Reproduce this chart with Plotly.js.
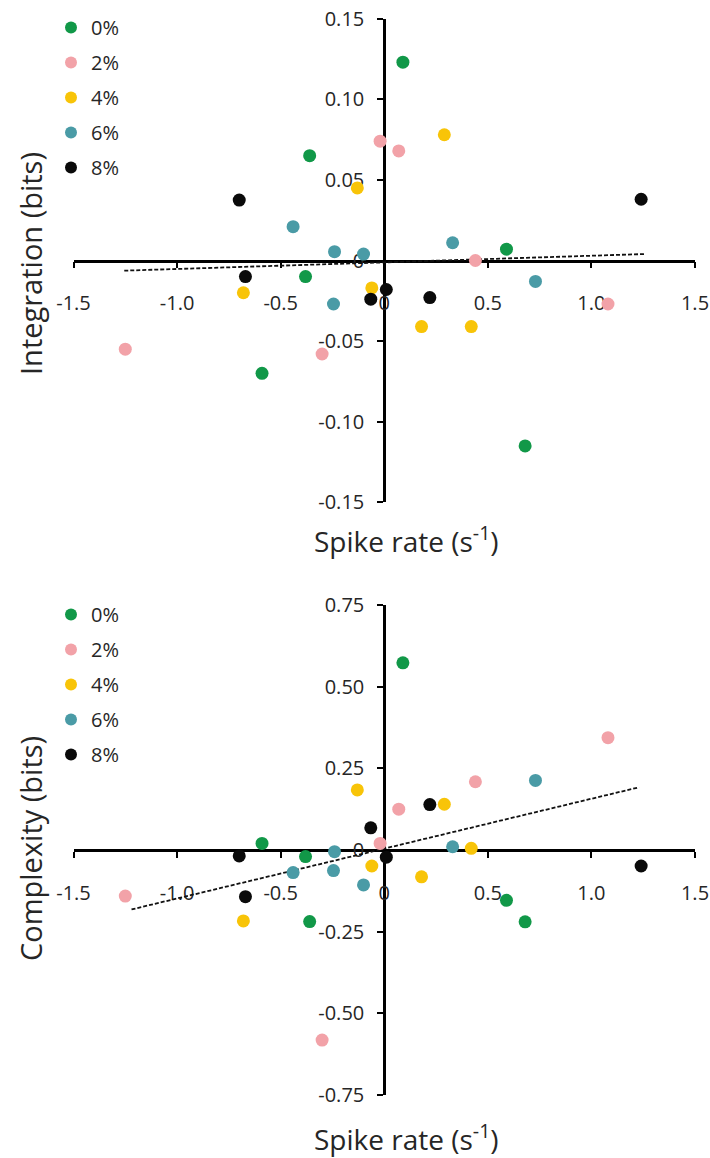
<!DOCTYPE html>
<html>
<head>
<meta charset="utf-8">
<script src="https://cdn.plot.ly/plotly-3.0.1.min.js"></script>
<style>html,body{margin:0;padding:0;background:#fff;}#chart{width:710px;height:1158px;}</style>
</head>
<body>
<div id="chart"></div>
<script>
// ---- data ----
const seriesLabels = ['0%', '2%', '4%', '6%', '8%'];

// spike rate (x) per series, shared by both panels
const rate0 = [0.09, -0.36, 0.59, -0.38, -0.59, 0.68];
const rate2 = [-0.02, 0.07, 0.44, 1.08, -1.25, -0.30];
const rate4 = [0.29, -0.13, -0.68, -0.06, 0.18, 0.42];
const rate6 = [-0.44, -0.24, -0.10, 0.33, 0.73, -0.245];
const rate8 = [-0.70, -0.67, -0.065, 0.01, 0.22, 1.24];

// integration (bits), top panel
const integ0 = [0.123, 0.065, 0.007, -0.010, -0.070, -0.115];
const integ2 = [0.074, 0.068, 0.000, -0.027, -0.055, -0.058];
const integ4 = [0.078, 0.045, -0.020, -0.017, -0.041, -0.041];
const integ6 = [0.021, 0.0055, 0.004, 0.011, -0.013, -0.027];
const integ8 = [0.0375, -0.010, -0.024, -0.018, -0.023, 0.038];

// complexity (bits), bottom panel
const compl0 = [0.573, -0.219, -0.154, -0.020, 0.020, -0.220];
const compl2 = [0.020, 0.125, 0.209, 0.344, -0.141, -0.582];
const compl4 = [0.140, 0.184, -0.217, -0.049, -0.082, 0.005];
const compl6 = [-0.069, -0.005, -0.107, 0.010, 0.213, -0.063];
const compl8 = [-0.018, -0.143, 0.068, -0.022, 0.139, -0.049];

// dashed trend lines (end points)
const integTrendX = [-1.255, 1.255];
const integTrendY = [-0.0063, 0.004];
const complTrendX = [-1.22, 1.23];
const complTrendY = [-0.182, 0.192];

// tick labels
const xTickVals = [-1.5, -1.0, -0.5, 0, 0.5, 1.0, 1.5];
const xTickText = ['-1.5', '-1.0', '-0.5', '0', '0.5', '1.0', '1.5'];
const integTickVals = [-0.15, -0.10, -0.05, 0, 0.05, 0.10, 0.15];
const integTickText = ['-0.15', '-0.10', '-0.05', '0', '0.05', '0.10', '0.15'];
const complTickVals = [-0.75, -0.50, -0.25, 0, 0.25, 0.50, 0.75];
const complTickText = ['-0.75', '-0.50', '-0.25', '0', '0.25', '0.50', '0.75'];

// ---- styles ----
const colors = ['#119848', '#f2a2a8', '#f8c408', '#4a9ba6', '#0a0a0a'];
const FONT = 'Open Sans, sans-serif';
const TXT = '#262626';

const rates = [rate0, rate2, rate4, rate6, rate8];
const integs = [integ0, integ2, integ4, integ6, integ8];
const compls = [compl0, compl2, compl4, compl6, compl8];

const traces = [];
traces.push({
  type: 'scatter', mode: 'lines', x: integTrendX, y: integTrendY, xaxis: 'x', yaxis: 'y',
  line: {color: '#111', width: 1.8, dash: '4px,2px'}, showlegend: false, hoverinfo: 'skip'
});
traces.push({
  type: 'scatter', mode: 'lines', x: complTrendX, y: complTrendY, xaxis: 'x2', yaxis: 'y2',
  line: {color: '#111', width: 1.8, dash: '4px,2px'}, showlegend: false, hoverinfo: 'skip'
});
seriesLabels.forEach((lab, i) => {
  traces.push({
    type: 'scatter', mode: 'markers', x: rates[i], y: integs[i],
    xaxis: 'x', yaxis: 'y', name: lab, legend: 'legend', legendgroup: 'a' + i,
    marker: {color: colors[i], size: 13}, hoverinfo: 'x+y'
  });
});
seriesLabels.forEach((lab, i) => {
  traces.push({
    type: 'scatter', mode: 'markers', x: rates[i], y: compls[i],
    xaxis: 'x2', yaxis: 'y2', name: lab, legend: 'legend2', legendgroup: 'b' + i,
    marker: {color: colors[i], size: 13}, hoverinfo: 'x+y'
  });
});

const W = 710, H = 1158;
const xDom = [73.5 / W, 695 / W];
const yPos = 384 / W;

function xAxis(pos) {
  return {
    domain: xDom, range: [-1.5, 1.5], anchor: 'free', position: pos,
    showline: true, linecolor: '#000', linewidth: 2.5, ticks: 'outside', ticklen: 6,
    tickwidth: 2, tickcolor: '#000', tickvals: xTickVals, ticktext: xTickText,
    showgrid: false, zeroline: false, layer: 'below traces', ticklabelstandoff: 18,
    tickfont: {family: FONT, size: 20, color: TXT}, fixedrange: true
  };
}
function yAxis(dom, range, vals, text) {
  return {
    domain: dom, range: range, anchor: 'free', position: yPos,
    showline: true, linecolor: '#000', linewidth: 2.5, ticks: 'outside', ticklen: 6,
    tickwidth: 2, tickcolor: '#000', tickvals: vals, ticktext: text,
    showgrid: false, zeroline: false, layer: 'below traces', ticklabelstandoff: 9,
    tickfont: {family: FONT, size: 20, color: TXT}, fixedrange: true
  };
}

const legendCommon = {
  xanchor: 'left', yanchor: 'top', bgcolor: 'rgba(0,0,0,0)',
  font: {family: FONT, size: 20, color: TXT}, traceorder: 'grouped', tracegroupgap: 6,
  itemsizing: 'constant'
};

const layout = {
  width: W, height: H, margin: {l: 0, r: 0, t: 0, b: 0},
  paper_bgcolor: '#fff', plot_bgcolor: 'rgba(0,0,0,0)',
  showlegend: true, hovermode: 'closest',
  xaxis: xAxis(1 - 260.5 / H),
  yaxis: yAxis([1 - 502.3 / H, 1 - 18.7 / H], [-0.15, 0.15], integTickVals, integTickText),
  xaxis2: xAxis(1 - 850 / H),
  yaxis2: yAxis([1 - 1095 / H, 1 - 605 / H], [-0.75, 0.75], complTickVals, complTickText),
  legend: Object.assign({x: 51 / W, y: 1 - 8 / H}, legendCommon),
  legend2: Object.assign({x: 51 / W, y: 1 - 595 / H}, legendCommon),
  annotations: [
    {text: 'Integration (bits)', textangle: -90, xref: 'paper', yref: 'paper',
     x: 30 / W, y: 1 - 264 / H, xanchor: 'center', yanchor: 'middle', showarrow: false,
     font: {family: FONT, size: 29, color: TXT}},
    {text: 'Complexity (bits)', textangle: -90, xref: 'paper', yref: 'paper',
     x: 30 / W, y: 1 - 849 / H, xanchor: 'center', yanchor: 'middle', showarrow: false,
     font: {family: FONT, size: 29, color: TXT}},
    {text: 'Spike rate (s<sup>-1</sup>)', xref: 'paper', yref: 'paper',
     x: 406 / W, y: 1 - 539 / H, xanchor: 'center', yanchor: 'middle', showarrow: false,
     font: {family: FONT, size: 28, color: TXT}},
    {text: 'Spike rate (s<sup>-1</sup>)', xref: 'paper', yref: 'paper',
     x: 406 / W, y: 1 - 1137 / H, xanchor: 'center', yanchor: 'middle', showarrow: false,
     font: {family: FONT, size: 28, color: TXT}}
  ]
};

Plotly.newPlot('chart', traces, layout, {displayModeBar: false});
</script>
</body>
</html>
